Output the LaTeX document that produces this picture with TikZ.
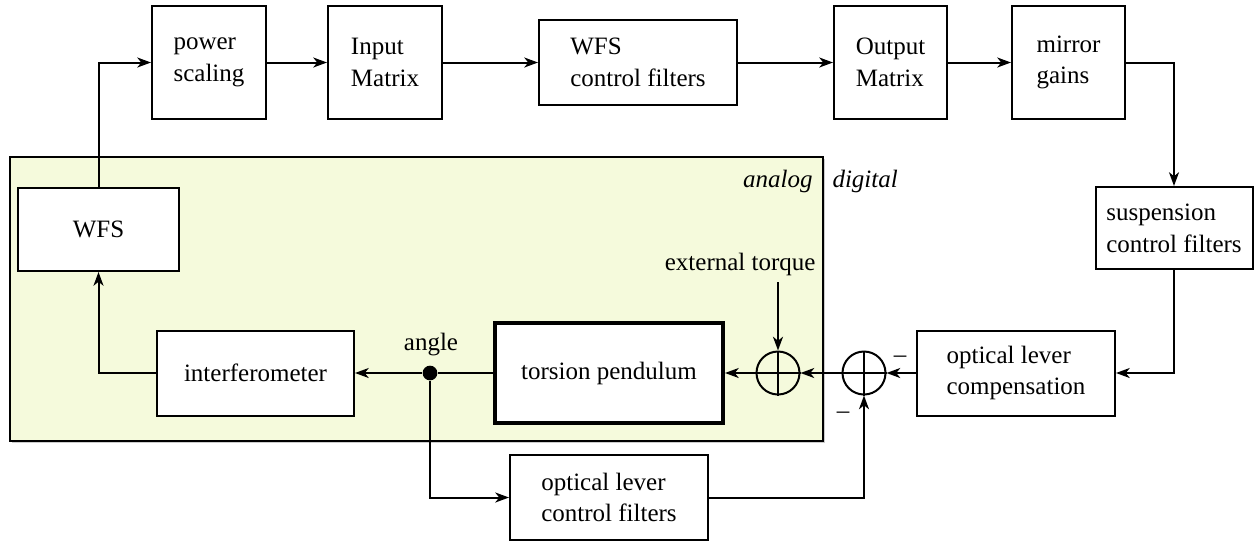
\documentclass[tikz,border=0pt]{standalone}
\usepackage{fontspec}
\setmainfont{Liberation Serif}
\newfontfamily\diagfont{Liberation Serif}
\usetikzlibrary{arrows.meta,shadows}
\definecolor{analogbg}{RGB}{245,250,220}
\begin{document}
\begin{tikzpicture}[x=0.4pt,y=-0.4pt,
  every node/.style={font=\diagfont\fontsize{10}{12.7}\selectfont},
  box/.style={draw, line width=0.8pt, fill=white, align=left, inner sep=0pt},
  bx/.style 2 args={minimum width=#1*0.4pt, minimum height=#2*0.4pt},
  conn/.style={line width=0.8pt, -{Stealth[length=5.5pt,width=4pt,inset=1.6pt]}},
  wire/.style={line width=0.8pt},
  sumnode/.style={circle, draw, line width=0.8pt, minimum size=43*0.4pt, inner sep=0pt},
  lbl/.style={inner sep=0pt},
]
\useasboundingbox (0,0) rectangle (1255,542);

% analog region
\draw[wire, fill=analogbg, drop shadow={shadow xshift=0.8pt, shadow yshift=-0.8pt, fill=black!40}] (10,157) rectangle (823,441);

% blocks
\node[box,bx={114}{113}] (ps) at (209,62.5) {power\\scaling};
\node[box,bx={114}{113}] (im) at (385,62.5) {Input\\Matrix};
\node[box,bx={198}{85}] (wcf) at (638,62.5) {WFS\\control filters};
\node[box,bx={113}{113}] (om) at (890.5,62.5) {Output\\Matrix};
\node[box,bx={113}{113}] (mg) at (1068.5,62.5) {mirror\\gains};
\node[box,bx={157}{82}] (scf) at (1174,228) {suspension\\control filters};
\node[box,bx={198}{85}] (olc) at (1016,373) {optical lever\\compensation};
\node[box,bx={161}{83}] (wfs) at (98.5,229.5) {WFS};
\node[box,bx={197}{85}] (ifo) at (255.5,373) {interferometer};
\node[box,bx={228}{100},line width=1.6pt] (tp) at (609,373) {torsion pendulum};
\node[box,bx={198}{85}] (olcf) at (609,497.5) {optical lever\\control filters};

% summing junctions
\node[sumnode] (s1) at (778,373) {};
\node[sumnode] (s2) at (864,373) {};
\draw[wire] (s1.north) -- (s1.south) (s1.west) -- (s1.east);
\draw[wire] (s2.north) -- (s2.south) (s2.west) -- (s2.east);

% branch point
\node[circle, fill, inner sep=0pt, minimum size=14.7*0.4pt] (dot) at (430,373) {};

% connectors
\draw[conn] (wfs.north) |- (ps.west);
\draw[conn] (ps.east) -- (im.west);
\draw[conn] (im.east) -- (wcf.west);
\draw[conn] (wcf.east) -- (om.west);
\draw[conn] (om.east) -- (mg.west);
\draw[conn] (mg.east) -| (scf.north);
\draw[conn] (scf.south) |- (olc.east);
\draw[conn] (olc.west) -- (s2.east);
\draw[conn] (s2.west) -- (s1.east);
\draw[conn] (s1.west) -- (tp.east);
\draw[wire] (tp.west) -- (dot);
\draw[conn] (dot) -- (ifo.east);
\draw[conn] (ifo.west) -| (wfs.south);
\draw[conn] (dot) |- (olcf.west);
\draw[conn] (olcf.east) -| (s2.south);
\coordinate (torq) at (778,282);
\draw[conn] (torq) -- (s1.north);

% labels
\node[lbl, anchor=base east] (tq) at (816,270) {external torque};
\node[lbl, anchor=base] (ang) at (431,350) {angle};
\node[lbl, anchor=base east] (an) at (813,187) {\itshape analog};
\node[lbl, anchor=base west] (dg) at (832,187) {\itshape digital};
\node[lbl, anchor=base] (m1) at (900,362) {\textendash};
\node[lbl, anchor=base] (m2) at (843,418) {\textendash};
\end{tikzpicture}
\end{document}
